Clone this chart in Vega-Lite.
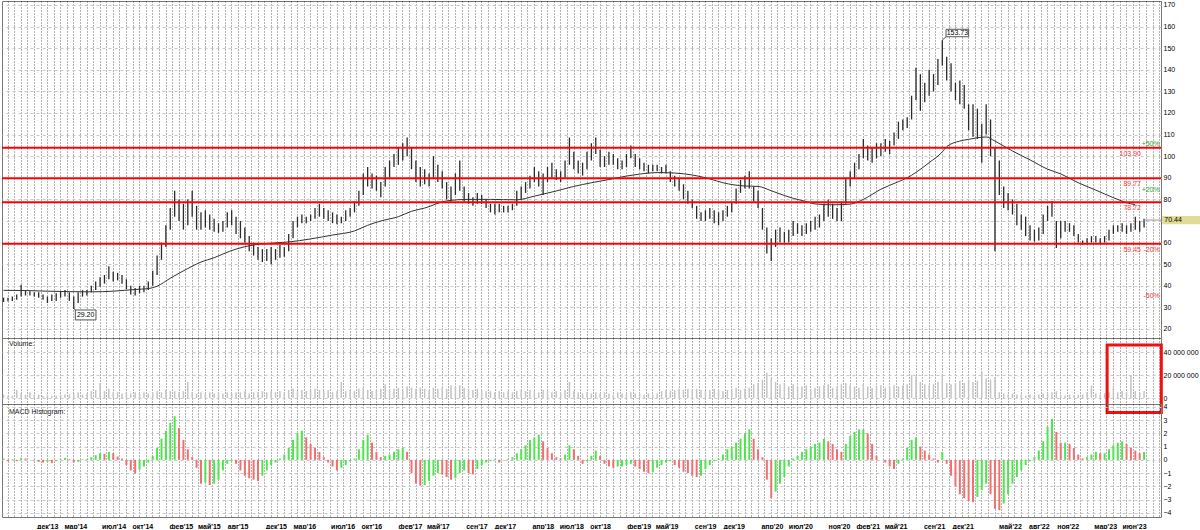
{
"$schema":"https://vega.github.io/schema/vega-lite/v6.json",
"background":"white","padding":0,"spacing":0,"bounds":"flush",
"config":{"font":"Liberation Sans","view":{"stroke":"#777"},
"axis":{"labelFontSize":7,"labelColor":"#000","labelFont":"Liberation Sans","ticks":false,"domain":false,"labelOverlap":false},
"axisY":{"gridColor":"#c8c8c8","gridDash":[3,3],"labelPadding":2},
"axisX":{"gridColor":"#000","gridDash":[1,2],"gridOpacity":0.6},
"text":{"fontSize":7,"font":"Liberation Sans"}},
"datasets":{
"lv":[{"v":103.9,"s":"103.90"},{"v":89.77,"s":"89.77"},{"v":78.72,"s":"78.72"},{"v":59.45,"s":"59.45"}],
"pc":[{"v":105.66,"s":"+50%","c":"up"},{"v":84.53,"s":"+20%","c":"up"},{"v":56.35,"s":"-20%","c":"dn"},{"v":35.22,"s":"-50%","c":"dn"}],
"p":[
{"t":"2013-07-15","h":34.5,"l":32.5,"v":3,"m":0.1,"a":37.9},
{"t":"2013-07-29","h":34.5,"l":32.8,"v":2,"m":-0.1},
{"t":"2013-08-12","h":35,"l":33,"v":2,"m":0.05},
{"t":"2013-08-26","h":36,"l":33.5,"v":7,"m":-0.1},
{"t":"2013-09-09","h":40.5,"l":35,"v":4,"m":0.15},
{"t":"2013-09-23","h":38,"l":35.5,"v":3,"m":0.1,"a":37.8},
{"t":"2013-10-07","h":37.5,"l":35.5,"v":5,"m":0},
{"t":"2013-10-21","h":37,"l":35,"v":3,"m":-0.05},
{"t":"2013-11-04","h":37,"l":34.5,"v":3,"m":-0.15},
{"t":"2013-11-18","h":36,"l":33.5,"v":2,"m":-0.2},
{"t":"2013-12-02","h":35,"l":32,"v":3,"m":-0.15,"a":37.5},
{"t":"2013-12-16","h":36,"l":33,"v":2,"m":-0.25},
{"t":"2013-12-30","h":36.5,"l":33,"v":2,"m":-0.1},
{"t":"2014-01-13","h":37.5,"l":34.5,"v":3,"m":0.05},
{"t":"2014-01-27","h":38,"l":35,"v":3,"m":0.15},
{"t":"2014-02-10","h":37,"l":33,"v":3,"m":0.05,"a":37.3},
{"t":"2014-02-24","h":35,"l":29.2,"v":4,"m":-0.2},
{"t":"2014-03-10","h":37,"l":32,"v":5,"m":-0.15},
{"t":"2014-03-24","h":38,"l":35,"v":3,"m":0.05},
{"t":"2014-04-07","h":38,"l":35.5,"v":4,"m":0.05},
{"t":"2014-04-21","h":40,"l":37,"v":6,"m":0.2,"a":37.2},
{"t":"2014-05-05","h":42,"l":38,"v":7,"m":0.35},
{"t":"2014-05-19","h":44,"l":39.5,"v":13,"m":0.5},
{"t":"2014-06-02","h":45,"l":41,"v":6,"m":0.45},
{"t":"2014-06-16","h":49,"l":43,"v":8,"m":0.6},
{"t":"2014-06-30","h":46.5,"l":42,"v":5,"m":0.5,"a":37.5},
{"t":"2014-07-14","h":46,"l":42.5,"v":5,"m":0.25},
{"t":"2014-07-28","h":45,"l":41,"v":4,"m":0.1},
{"t":"2014-08-11","h":43,"l":38.5,"v":5,"m":-0.4},
{"t":"2014-08-25","h":40,"l":36,"v":4,"m":-0.8},
{"t":"2014-09-08","h":39,"l":35.5,"v":5,"m":-1.05,"a":38.3},
{"t":"2014-09-22","h":40,"l":36.5,"v":4,"m":-0.75},
{"t":"2014-10-06","h":40,"l":37,"v":5,"m":-0.5},
{"t":"2014-10-20","h":42,"l":38,"v":4,"m":-0.2,"a":38.7},
{"t":"2014-11-03","h":47,"l":40,"v":5,"m":0.3},
{"t":"2014-11-17","h":54,"l":45,"v":6,"m":0.9,"a":39.8},
{"t":"2014-12-01","h":60,"l":52,"v":5,"m":1.6},
{"t":"2014-12-15","h":68,"l":58,"v":7,"m":2.2},
{"t":"2014-12-29","h":76,"l":66,"v":6,"m":2.8,"a":43.5},
{"t":"2015-01-12","h":84,"l":72,"v":6,"m":3.3},
{"t":"2015-01-26","h":80,"l":70,"v":5,"m":2.4},
{"t":"2015-02-09","h":78,"l":66,"v":6,"m":1.5},
{"t":"2015-02-23","h":80,"l":68,"v":14,"m":0.8,"a":48},
{"t":"2015-03-09","h":84,"l":72,"v":5,"m":0.2},
{"t":"2015-03-23","h":77,"l":66,"v":4,"m":-0.6},
{"t":"2015-04-06","h":74,"l":66,"v":5,"m":-1.8,"a":51},
{"t":"2015-04-20","h":75,"l":67,"v":4,"m":-1.7},
{"t":"2015-05-04","h":73,"l":66,"v":5,"m":-1.9},
{"t":"2015-05-18","h":71,"l":65,"v":4,"m":-1.8,"a":53},
{"t":"2015-06-01","h":69,"l":64.5,"v":5,"m":-1.5},
{"t":"2015-06-15","h":70,"l":65,"v":4,"m":-0.8,"a":54.7},
{"t":"2015-06-29","h":74,"l":67,"v":5,"m":-0.3},
{"t":"2015-07-13","h":75,"l":68,"v":4,"m":-0.1},
{"t":"2015-07-27","h":72,"l":64,"v":5,"m":-0.3,"a":57},
{"t":"2015-08-10","h":70,"l":62,"v":5,"m":-0.8},
{"t":"2015-08-24","h":67,"l":60,"v":6,"m":-1.2},
{"t":"2015-09-07","h":63,"l":56,"v":4,"m":-1.4},
{"t":"2015-09-21","h":60,"l":54,"v":5,"m":-1.5,"a":58.9},
{"t":"2015-10-05","h":58,"l":52,"v":5,"m":-1.6},
{"t":"2015-10-19","h":57,"l":51,"v":6,"m":-1.2},
{"t":"2015-11-02","h":57,"l":51.5,"v":5,"m":-0.8,"a":59.6},
{"t":"2015-11-16","h":58,"l":50,"v":6,"m":-0.4},
{"t":"2015-11-30","h":57,"l":52,"v":5,"m":-0.2},
{"t":"2015-12-14","h":59,"l":53,"v":6,"m":0.1},
{"t":"2015-12-28","h":58,"l":53.5,"v":5,"m":0.4},
{"t":"2016-01-11","h":64,"l":56,"v":7,"m":0.9,"a":60.3},
{"t":"2016-01-25","h":70,"l":62,"v":8,"m":1.5},
{"t":"2016-02-08","h":72,"l":67,"v":6,"m":2},
{"t":"2016-02-22","h":73,"l":69,"v":7,"m":2.2},
{"t":"2016-03-07","h":72,"l":69,"v":6,"m":1.7},
{"t":"2016-03-21","h":73,"l":70,"v":7,"m":1.2,"a":61.7},
{"t":"2016-04-04","h":76,"l":71,"v":8,"m":0.9},
{"t":"2016-04-18","h":78,"l":72,"v":7,"m":0.6},
{"t":"2016-05-02","h":76,"l":71,"v":6,"m":0.2},
{"t":"2016-05-16","h":75,"l":70,"v":7,"m":-0.2},
{"t":"2016-05-30","h":74,"l":69,"v":5,"m":-0.5,"a":63.5},
{"t":"2016-06-13","h":73,"l":68.5,"v":6,"m":-0.8},
{"t":"2016-06-27","h":72,"l":69,"v":14,"m":-0.6},
{"t":"2016-07-11","h":75,"l":70,"v":6,"m":-0.4},
{"t":"2016-07-25","h":76,"l":72,"v":7,"m":-0.1},
{"t":"2016-08-08","h":79,"l":74,"v":6,"m":0.1,"a":65.4},
{"t":"2016-08-22","h":84,"l":77,"v":8,"m":0.8},
{"t":"2016-09-05","h":92,"l":82,"v":9,"m":1.5},
{"t":"2016-09-19","h":95,"l":86,"v":7,"m":1.9,"a":68},
{"t":"2016-10-03","h":92,"l":85,"v":6,"m":1.3},
{"t":"2016-10-17","h":91,"l":84,"v":7,"m":0.6},
{"t":"2016-10-31","h":88,"l":81,"v":8,"m":0.2,"a":70},
{"t":"2016-11-14","h":95,"l":86,"v":12,"m":0.3},
{"t":"2016-11-28","h":98,"l":90,"v":8,"m":0.4},
{"t":"2016-12-12","h":101,"l":95,"v":8,"m":0.6},
{"t":"2016-12-26","h":104,"l":96,"v":9,"m":0.8,"a":72},
{"t":"2017-01-09","h":106,"l":98,"v":8,"m":0.9},
{"t":"2017-01-23","h":108.6,"l":100,"v":10,"m":0.6},
{"t":"2017-02-06","h":104,"l":94,"v":9,"m":-1,"a":74.5},
{"t":"2017-02-20","h":98,"l":88,"v":8,"m":-1.8},
{"t":"2017-03-06","h":95,"l":86,"v":9,"m":-1.95},
{"t":"2017-03-20","h":94,"l":87,"v":8,"m":-1.9,"a":76},
{"t":"2017-04-03","h":92,"l":86,"v":7,"m":-1.6},
{"t":"2017-04-17","h":100,"l":90,"v":9,"m":-1.2},
{"t":"2017-05-01","h":96,"l":88,"v":8,"m":-1},
{"t":"2017-05-15","h":93,"l":85,"v":9,"m":-1.1},
{"t":"2017-05-29","h":88,"l":80,"v":8,"m":-1.3,"a":79.3},
{"t":"2017-06-12","h":86,"l":79,"v":11,"m":-1.5},
{"t":"2017-06-26","h":92,"l":82,"v":10,"m":-1.4},
{"t":"2017-07-10","h":98,"l":84,"v":11,"m":-1},
{"t":"2017-07-24","h":86,"l":79,"v":9,"m":-0.8},
{"t":"2017-08-07","h":83,"l":78,"v":8,"m":-1,"a":80},
{"t":"2017-08-21","h":81,"l":77,"v":7,"m":-1.1},
{"t":"2017-09-04","h":83,"l":78,"v":8,"m":-0.7},
{"t":"2017-09-18","h":82,"l":78,"v":7,"m":-0.4},
{"t":"2017-10-02","h":80,"l":76,"v":6,"m":-0.2},
{"t":"2017-10-16","h":78,"l":74,"v":6,"m":-0.1,"a":80},
{"t":"2017-10-30","h":78,"l":73,"v":5,"m":0.05},
{"t":"2017-11-13","h":78,"l":74,"v":6,"m":-0.2},
{"t":"2017-11-27","h":77,"l":74,"v":5,"m":-0.05},
{"t":"2017-12-11","h":77,"l":74,"v":6,"m":0.05},
{"t":"2017-12-25","h":78,"l":75,"v":5,"m":0.2},
{"t":"2018-01-08","h":84,"l":77,"v":6,"m":0.5,"a":79.8},
{"t":"2018-01-22","h":86,"l":80,"v":7,"m":0.8},
{"t":"2018-02-05","h":88,"l":83,"v":6,"m":1.1},
{"t":"2018-02-19","h":91,"l":85,"v":7,"m":1.5},
{"t":"2018-03-05","h":95,"l":88,"v":6,"m":1.7,"a":81.5},
{"t":"2018-03-19","h":93,"l":86,"v":5,"m":1.9},
{"t":"2018-04-02","h":92,"l":82,"v":7,"m":1.4},
{"t":"2018-04-16","h":95,"l":88,"v":6,"m":0.9},
{"t":"2018-04-30","h":97,"l":90,"v":5,"m":0.5},
{"t":"2018-05-14","h":94,"l":89,"v":6,"m":0.2,"a":83.9},
{"t":"2018-05-28","h":93,"l":88,"v":5,"m":0.1},
{"t":"2018-06-11","h":98,"l":90,"v":7,"m":0.4},
{"t":"2018-06-25","h":108.6,"l":96,"v":14,"m":1.1},
{"t":"2018-07-09","h":102,"l":94,"v":6,"m":0.8,"a":86},
{"t":"2018-07-23","h":98,"l":92,"v":5,"m":0.3},
{"t":"2018-08-06","h":97,"l":91,"v":4,"m":-0.3},
{"t":"2018-08-20","h":102,"l":94,"v":5,"m":-0.1},
{"t":"2018-09-03","h":106,"l":98,"v":4,"m":0.3,"a":87.7},
{"t":"2018-09-17","h":108.6,"l":101,"v":5,"m":0.7},
{"t":"2018-10-01","h":103,"l":95,"v":4,"m":0.3},
{"t":"2018-10-15","h":100,"l":95,"v":5,"m":-0.3},
{"t":"2018-10-29","h":102,"l":96,"v":4,"m":-0.5,"a":89.2},
{"t":"2018-11-12","h":101,"l":96,"v":3,"m":-0.6},
{"t":"2018-11-26","h":99,"l":94,"v":5,"m":-0.5},
{"t":"2018-12-10","h":98,"l":94,"v":4,"m":-0.5},
{"t":"2018-12-24","h":101,"l":95,"v":4,"m":-0.4,"a":90.8},
{"t":"2019-01-07","h":105,"l":99,"v":5,"m":-0.3},
{"t":"2019-01-21","h":101,"l":95,"v":4,"m":-0.5},
{"t":"2019-02-04","h":99,"l":94,"v":4,"m":-0.7,"a":91.7},
{"t":"2019-02-18","h":97,"l":93,"v":3,"m":-0.9},
{"t":"2019-03-04","h":96,"l":92,"v":4,"m":-1},
{"t":"2019-03-18","h":96,"l":93,"v":3,"m":-0.95},
{"t":"2019-04-01","h":96,"l":93,"v":4,"m":-0.6,"a":92.4},
{"t":"2019-04-15","h":95,"l":92,"v":6,"m":-0.4},
{"t":"2019-04-29","h":96,"l":92,"v":7,"m":-0.2},
{"t":"2019-05-13","h":93,"l":88,"v":6,"m":-0.1},
{"t":"2019-05-27","h":91,"l":86,"v":7,"m":-0.4,"a":92.2},
{"t":"2019-06-10","h":90,"l":84,"v":8,"m":-0.6},
{"t":"2019-06-24","h":87,"l":80,"v":7,"m":-0.9},
{"t":"2019-07-08","h":84,"l":78,"v":8,"m":-1},
{"t":"2019-07-22","h":80,"l":76,"v":7,"m":-1.2,"a":91.3},
{"t":"2019-08-05","h":77,"l":71,"v":8,"m":-1.3},
{"t":"2019-08-19","h":74,"l":70,"v":7,"m":-1.2},
{"t":"2019-09-02","h":75,"l":70,"v":6,"m":-0.7},
{"t":"2019-09-16","h":76,"l":71,"v":7,"m":-0.4,"a":89.5},
{"t":"2019-09-30","h":75,"l":69,"v":8,"m":-0.1},
{"t":"2019-10-14","h":74,"l":68,"v":7,"m":0.1},
{"t":"2019-10-28","h":75,"l":70,"v":6,"m":0.4,"a":87.7},
{"t":"2019-11-11","h":77,"l":72,"v":7,"m":0.8},
{"t":"2019-11-25","h":79,"l":74,"v":8,"m":1},
{"t":"2019-12-09","h":85,"l":78,"v":9,"m":1.3},
{"t":"2019-12-23","h":89,"l":83,"v":7,"m":1.6},
{"t":"2020-01-06","h":91,"l":85,"v":8,"m":2,"a":86.2},
{"t":"2020-01-20","h":93,"l":85,"v":9,"m":2.3},
{"t":"2020-02-03","h":86,"l":79,"v":12,"m":1.6},
{"t":"2020-02-17","h":84,"l":76,"v":13,"m":0.8,"a":86},
{"t":"2020-03-02","h":76,"l":66,"v":16,"m":0.2},
{"t":"2020-03-16","h":67,"l":55,"v":22,"m":-1.5},
{"t":"2020-03-30","h":62,"l":51.5,"v":17,"m":-2.9,"a":84},
{"t":"2020-04-13","h":66,"l":58,"v":14,"m":-2.4},
{"t":"2020-04-27","h":67,"l":60,"v":12,"m":-1.8},
{"t":"2020-05-11","h":65,"l":60,"v":13,"m":-1.3,"a":81.8},
{"t":"2020-05-25","h":66,"l":60,"v":10,"m":-0.5},
{"t":"2020-06-08","h":70,"l":63,"v":12,"m":0.1,"a":80.5},
{"t":"2020-06-22","h":69,"l":64,"v":9,"m":0.3},
{"t":"2020-07-06","h":68,"l":63,"v":10,"m":0.6},
{"t":"2020-07-20","h":69,"l":64,"v":11,"m":0.8,"a":79},
{"t":"2020-08-03","h":70,"l":65,"v":8,"m":1},
{"t":"2020-08-17","h":72,"l":66,"v":9,"m":1.2,"a":77.9},
{"t":"2020-08-31","h":73,"l":67,"v":10,"m":1.3},
{"t":"2020-09-14","h":78,"l":70,"v":11,"m":1.6},
{"t":"2020-09-28","h":80,"l":72,"v":12,"m":1.4},
{"t":"2020-10-12","h":78,"l":71,"v":9,"m":1.2,"a":77.5},
{"t":"2020-10-26","h":76,"l":70,"v":10,"m":0.8},
{"t":"2020-11-09","h":79,"l":70,"v":12,"m":0.6},
{"t":"2020-11-23","h":90,"l":78,"v":13,"m":1.2},
{"t":"2020-12-07","h":93,"l":86,"v":11,"m":1.8,"a":77.8},
{"t":"2020-12-21","h":97,"l":90,"v":10,"m":2.1},
{"t":"2021-01-04","h":101,"l":94,"v":9,"m":2.3},
{"t":"2021-01-18","h":108,"l":99,"v":12,"m":2.3,"a":80},
{"t":"2021-02-01","h":105,"l":98,"v":10,"m":2},
{"t":"2021-02-15","h":104,"l":97,"v":9,"m":1.2},
{"t":"2021-03-01","h":106,"l":99,"v":10,"m":0.3},
{"t":"2021-03-15","h":106,"l":100,"v":11,"m":0,"a":84.7},
{"t":"2021-03-29","h":108,"l":102,"v":9,"m":-0.2},
{"t":"2021-04-12","h":107,"l":101,"v":10,"m":-0.5},
{"t":"2021-04-26","h":111,"l":105,"v":11,"m":-0.7},
{"t":"2021-05-10","h":116,"l":108,"v":10,"m":-0.3,"a":88.2},
{"t":"2021-05-24","h":117,"l":112,"v":11,"m":0.1},
{"t":"2021-06-07","h":118,"l":113,"v":12,"m":0.9,"a":90},
{"t":"2021-06-21","h":128,"l":117,"v":20,"m":1.5},
{"t":"2021-07-05","h":141,"l":126,"v":19,"m":1.7,"a":92.5},
{"t":"2021-07-19","h":138,"l":121,"v":14,"m":1},
{"t":"2021-08-02","h":134,"l":125,"v":12,"m":0.7},
{"t":"2021-08-16","h":140,"l":128,"v":11,"m":0.4,"a":97},
{"t":"2021-08-30","h":138,"l":130,"v":12,"m":0.1},
{"t":"2021-09-13","h":145,"l":133,"v":14,"m":-0.2},
{"t":"2021-09-27","h":153.73,"l":142,"v":21,"m":0.6,"a":102},
{"t":"2021-10-11","h":146,"l":135,"v":13,"m":-0.3,"a":104.4},
{"t":"2021-10-25","h":143,"l":130,"v":12,"m":-1.2},
{"t":"2021-11-08","h":134,"l":126,"v":13,"m":-2},
{"t":"2021-11-22","h":135,"l":124,"v":15,"m":-2.6,"a":107},
{"t":"2021-12-06","h":133,"l":122,"v":13,"m":-2.9},
{"t":"2021-12-20","h":124,"l":112,"v":16,"m":-3.1,"a":107.8},
{"t":"2022-01-03","h":124,"l":109,"v":14,"m":-3.2},
{"t":"2022-01-17","h":122,"l":108,"v":15,"m":-2.8},
{"t":"2022-01-31","h":115,"l":97,"v":23,"m":-2.3},
{"t":"2022-02-14","h":124,"l":110,"v":17,"m":-1.8,"a":108.9},
{"t":"2022-02-28","h":117,"l":100,"v":16,"m":-2.6},
{"t":"2022-03-14","h":104,"l":56,"v":18,"m":-3.7,"a":107},
{"t":"2022-03-28","h":98,"l":82,"v":5,"m":-3.8},
{"t":"2022-04-11","h":86,"l":76,"v":4,"m":-3.3},
{"t":"2022-04-25","h":83,"l":75,"v":3,"m":-2.6},
{"t":"2022-05-09","h":80,"l":73,"v":4,"m":-1.8,"a":102.4},
{"t":"2022-05-23","h":78,"l":68,"v":3,"m":-1.3},
{"t":"2022-06-06","h":73,"l":66,"v":3,"m":-0.8},
{"t":"2022-06-20","h":72,"l":63,"v":2,"m":-0.4},
{"t":"2022-07-04","h":68,"l":61,"v":3,"m":-0.1,"a":98.3},
{"t":"2022-07-18","h":66,"l":60.5,"v":2,"m":0.2},
{"t":"2022-08-01","h":67,"l":61,"v":3,"m":0.7},
{"t":"2022-08-15","h":73,"l":64,"v":4,"m":1.4},
{"t":"2022-08-29","h":77,"l":70,"v":4,"m":2.5,"a":94},
{"t":"2022-09-12","h":79.3,"l":72,"v":5,"m":3.1},
{"t":"2022-09-26","h":70,"l":57.5,"v":6,"m":2.1},
{"t":"2022-10-10","h":70,"l":62,"v":3,"m":1.3,"a":91.8},
{"t":"2022-10-24","h":70,"l":65,"v":2,"m":1.3},
{"t":"2022-11-07","h":69,"l":65,"v":3,"m":1.2},
{"t":"2022-11-21","h":68,"l":63,"v":2,"m":0.9},
{"t":"2022-12-05","h":64,"l":60,"v":3,"m":0.4,"a":87.7},
{"t":"2022-12-19","h":61,"l":59,"v":3,"m":0.1},
{"t":"2023-01-02","h":62,"l":59,"v":5,"m":0.2},
{"t":"2023-01-16","h":63,"l":60,"v":11,"m":0.4},
{"t":"2023-01-30","h":63,"l":60,"v":4,"m":0.6,"a":84.3},
{"t":"2023-02-13","h":62,"l":59.5,"v":3,"m":0.5},
{"t":"2023-02-27","h":63,"l":60,"v":4,"m":0.5},
{"t":"2023-03-13","h":66,"l":61,"v":5,"m":0.8},
{"t":"2023-03-27","h":68,"l":64,"v":9,"m":1.1,"a":80.8},
{"t":"2023-04-10","h":68,"l":65,"v":5,"m":1.3},
{"t":"2023-04-24","h":69,"l":65,"v":6,"m":1.4},
{"t":"2023-05-08","h":68,"l":64,"v":5,"m":1.2,"a":78.5},
{"t":"2023-05-22","h":69,"l":65,"v":20,"m":0.9},
{"t":"2023-06-05","h":72,"l":66,"v":6,"m":0.7,"a":77.5},
{"t":"2023-06-19","h":70,"l":65,"v":5,"m":0.5},
{"t":"2023-07-03","h":71,"l":67,"v":6,"m":0.6}
]},
"vconcat":[
{"width":1159,"height":337,
"resolve":{"axis":{"x":"independent","y":"independent"}},
"layer":[
{"data":{"name":"p"},"mark":{"type":"rule","color":"#2b2b2b","strokeWidth":1.3},
"encoding":{
"x":{"field":"t","type":"temporal","title":null,"scale":{"type":"utc","domain":[{"year":2013,"month":7,"date":10,"utc":true},{"year":2023,"month":8,"date":26,"utc":true}]},
"axis":{"tickCount":{"interval":"week","step":3},"labels":false,"ticks":false,"domain":false,"grid":true}},
"y":{"field":"l","type":"quantitative","title":null,"scale":{"domain":[15.83,171.85],"nice":false,"zero":false},"axis":{"orient":"right","values":[20,30,40,50,60,70,80,90,100,110,120,130,140,150,160,170],"grid":true,"labelOverlap":false,"labelExpr":"datum.value == 70 ? '' : datum.label"}},
"y2":{"field":"h"}}},
{"data":{"name":"p"},"transform":[{"filter":"isValid(datum.a)"}],"mark":{"type":"line","color":"#333","strokeWidth":1,"interpolate":"monotone"},
"encoding":{"x":{"field":"t","type":"temporal","axis":null},"y":{"field":"a","type":"quantitative","axis":null}}},
{"data":{"name":"lv"},"mark":{"type":"rule","color":"#ff0000","strokeWidth":2},
"encoding":{"y":{"field":"v","type":"quantitative","axis":null}}},
{"data":{"name":"lv"},"mark":{"type":"text","align":"right","baseline":"middle","dy":6,"color":"#ff3b3b","fontSize":7},
"encoding":{"x":{"datum":{"year":2023,"month":6,"date":23,"utc":true},"type":"temporal","axis":null},"y":{"field":"v","type":"quantitative","axis":null},"text":{"field":"s"}}},
{"data":{"name":"pc"},"mark":{"type":"text","align":"right","baseline":"middle","fontSize":7},
"encoding":{"x":{"datum":{"year":2023,"month":8,"date":22,"utc":true},"type":"temporal","axis":null},"y":{"field":"v","type":"quantitative","axis":null},"text":{"field":"s"},
"color":{"field":"c","type":"nominal","scale":{"domain":["up","dn"],"range":["#2aa52a","#ee3333"]},"legend":null}}},
{"data":{"values":[{}]},"mark":{"type":"rule","color":"#999","strokeWidth":1},
"encoding":{"x":{"datum":{"year":2023,"month":7,"date":3,"utc":true},"type":"temporal","axis":null},"x2":{"datum":{"year":2023,"month":8,"date":26,"utc":true}},"y":{"datum":70.44,"type":"quantitative","axis":null}}},
{"data":{"values":[{}]},"mark":{"type":"rect","fill":"#e1dc95"},
"encoding":{"x":{"datum":{"year":2023,"month":8,"date":30,"utc":true},"type":"temporal","axis":null},"x2":{"datum":{"year":2024,"month":1,"date":4,"utc":true}},"y":{"datum":72.3,"type":"quantitative","axis":null},"y2":{"datum":68.5}}},
{"data":{"values":[{}]},"mark":{"type":"text","align":"left","baseline":"middle","dx":2,"fontSize":7,"color":"#000"},
"encoding":{"x":{"datum":{"year":2023,"month":8,"date":30,"utc":true},"type":"temporal","axis":null},"y":{"datum":70.44,"type":"quantitative","axis":null},"text":{"value":"70.44"}}},
{"data":{"values":[{}]},"mark":{"type":"rule","color":"#555","strokeWidth":1},
"encoding":{"x":{"datum":{"year":2021,"month":9,"date":27,"utc":true},"type":"temporal","axis":null},"x2":{"datum":{"year":2021,"month":10,"date":9,"utc":true}},"y":{"datum":153.8,"type":"quantitative","axis":null},"y2":{"datum":155.3}}},
{"data":{"values":[{}]},"mark":{"type":"rect","fill":"white","stroke":"#555","strokeWidth":1},
"encoding":{"x":{"datum":{"year":2021,"month":10,"date":9,"utc":true},"type":"temporal","axis":null},"x2":{"datum":{"year":2021,"month":12,"date":20,"utc":true}},"y":{"datum":158.75,"type":"quantitative","axis":null},"y2":{"datum":155.3}}},
{"data":{"values":[{}]},"mark":{"type":"text","align":"center","baseline":"middle","fontSize":7,"color":"#000"},
"encoding":{"x":{"datum":{"year":2021,"month":11,"date":14,"utc":true},"type":"temporal","axis":null},"y":{"datum":157,"type":"quantitative","axis":null},"text":{"value":"153.73"}}},
{"data":{"values":[{}]},"mark":{"type":"rule","color":"#555","strokeWidth":1},
"encoding":{"x":{"datum":{"year":2014,"month":2,"date":24,"utc":true},"type":"temporal","axis":null},"x2":{"datum":{"year":2014,"month":3,"date":2,"utc":true}},"y":{"datum":29.4,"type":"quantitative","axis":null},"y2":{"datum":28.8}}},
{"data":{"values":[{}]},"mark":{"type":"rect","fill":"white","stroke":"#555","strokeWidth":1},
"encoding":{"x":{"datum":{"year":2014,"month":3,"date":1,"utc":true},"type":"temporal","axis":null},"x2":{"datum":{"year":2014,"month":5,"date":6,"utc":true}},"y":{"datum":28.8,"type":"quantitative","axis":null},"y2":{"datum":24.2}}},
{"data":{"values":[{}]},"mark":{"type":"text","align":"center","baseline":"middle","fontSize":7,"color":"#000"},
"encoding":{"x":{"datum":{"year":2014,"month":4,"date":3,"utc":true},"type":"temporal","axis":null},"y":{"datum":26.5,"type":"quantitative","axis":null},"text":{"value":"29.20"}}}
]},
{"width":1159,"height":66,
"resolve":{"axis":{"x":"independent","y":"independent"}},
"layer":[
{"data":{"name":"p"},"mark":{"type":"rule","color":"#c4c4c4","strokeWidth":1.5},
"encoding":{
"x":{"field":"t","type":"temporal","title":null,"scale":{"type":"utc","domain":[{"year":2013,"month":7,"date":10,"utc":true},{"year":2023,"month":8,"date":26,"utc":true}]},
"axis":{"tickCount":{"interval":"week","step":3},"labels":false,"ticks":false,"domain":false,"grid":true}},
"y":{"field":"v","type":"quantitative","title":null,"scale":{"domain":[-5.2,52.2],"nice":false,"zero":false},"axis":{"orient":"right","values":[0,20,40],"grid":true,"labelOverlap":false,"labelExpr":"datum.value == 0 ? '0' : datum.value == 20 ? '20 000 000' : '40 000 000'"}},
"y2":{"datum":0}}},
{"data":{"values":[{}]},"mark":{"type":"text","align":"left","baseline":"middle","dx":7,"dy":6,"fontSize":7,"color":"#222"},
"encoding":{"x":{"datum":{"year":2013,"month":7,"date":10,"utc":true},"type":"temporal","axis":null},"y":{"datum":52.2,"type":"quantitative","axis":null},"text":{"value":"Volume:"}}},
{"data":{"values":[{}]},"mark":{"type":"rect","fillOpacity":0,"stroke":"#ee1111","strokeWidth":3},
"encoding":{"x":{"datum":{"year":2023,"month":3,"date":7,"utc":true},"type":"temporal","axis":null},"x2":{"datum":{"year":2023,"month":8,"date":27,"utc":true}},"y":{"datum":46.1,"type":"quantitative","axis":null},"y2":{"datum":-12.6}}}
]},
{"width":1159,"height":113,
"resolve":{"axis":{"x":"independent","y":"independent"}},
"layer":[
{"data":{"name":"p"},"transform":[{"window":[{"op":"lag","field":"m","as":"pm"}],"sort":[{"field":"t"}]}],
"mark":{"type":"rule","strokeWidth":2},
"encoding":{
"x":{"field":"t","type":"temporal","title":null,"scale":{"type":"utc","domain":[{"year":2013,"month":7,"date":10,"utc":true},{"year":2023,"month":8,"date":26,"utc":true}]},
"axis":{"tickCount":{"interval":"week","step":3},"labels":false,"ticks":false,"domain":false,"grid":true}},
"y":{"field":"m","type":"quantitative","title":null,"scale":{"domain":[-4.32,4.22],"nice":false,"zero":false},"axis":{"orient":"right","values":[-4,-3,-2,-1,0,1,2,3,4],"grid":true,"labelOverlap":false}},
"y2":{"datum":0},
"color":{"condition":{"test":"datum.m >= datum.pm","value":"#4fe34f"},"value":"#f07070"}}},
{"data":{"values":[{}]},"mark":{"type":"text","align":"left","baseline":"middle","dx":7,"dy":8,"fontSize":7,"color":"#222"},
"encoding":{"x":{"datum":{"year":2013,"month":7,"date":10,"utc":true},"type":"temporal","axis":null},"y":{"datum":4.22,"type":"quantitative","axis":null},"text":{"value":"MACD Histogram:"}}}
]},
{"width":1159,"height":1,"view":{"stroke":null},
"data":{"name":"p"},"mark":{"type":"rule","opacity":0},
"encoding":{"x":{"field":"t","type":"temporal","title":null,"scale":{"type":"utc","domain":[{"year":2013,"month":7,"date":10,"utc":true},{"year":2023,"month":8,"date":26,"utc":true}]},
"axis":{"values":[
{"year":2013,"month":12,"date":1,"utc":true},{"year":2014,"month":3,"date":1,"utc":true},{"year":2014,"month":7,"date":1,"utc":true},{"year":2014,"month":10,"date":1,"utc":true},
{"year":2015,"month":2,"date":1,"utc":true},{"year":2015,"month":5,"date":1,"utc":true},{"year":2015,"month":8,"date":1,"utc":true},{"year":2015,"month":12,"date":1,"utc":true},
{"year":2016,"month":3,"date":1,"utc":true},{"year":2016,"month":7,"date":1,"utc":true},{"year":2016,"month":10,"date":1,"utc":true},
{"year":2017,"month":2,"date":1,"utc":true},{"year":2017,"month":5,"date":1,"utc":true},{"year":2017,"month":9,"date":1,"utc":true},{"year":2017,"month":12,"date":1,"utc":true},
{"year":2018,"month":4,"date":1,"utc":true},{"year":2018,"month":7,"date":1,"utc":true},{"year":2018,"month":10,"date":1,"utc":true},
{"year":2019,"month":2,"date":1,"utc":true},{"year":2019,"month":5,"date":1,"utc":true},{"year":2019,"month":9,"date":1,"utc":true},{"year":2019,"month":12,"date":1,"utc":true},
{"year":2020,"month":4,"date":1,"utc":true},{"year":2020,"month":7,"date":1,"utc":true},{"year":2020,"month":11,"date":1,"utc":true},
{"year":2021,"month":2,"date":1,"utc":true},{"year":2021,"month":5,"date":1,"utc":true},{"year":2021,"month":9,"date":1,"utc":true},{"year":2021,"month":12,"date":1,"utc":true},
{"year":2022,"month":5,"date":1,"utc":true},{"year":2022,"month":8,"date":1,"utc":true},{"year":2022,"month":11,"date":1,"utc":true},
{"year":2023,"month":3,"date":1,"utc":true},{"year":2023,"month":6,"date":1,"utc":true}],
"labelExpr":"['янв','фев','мар','апр','май','июн','июл','авг','сен','окт','ноя','дек'][utcmonth(datum.value)] + \"'\" + utcFormat(datum.value,'%y')",
"labelFontWeight":"bold","labelFontSize":7,"labelPadding":4,"labelOverlap":false,"grid":false,"ticks":false,"domain":false}}}}
]
}
